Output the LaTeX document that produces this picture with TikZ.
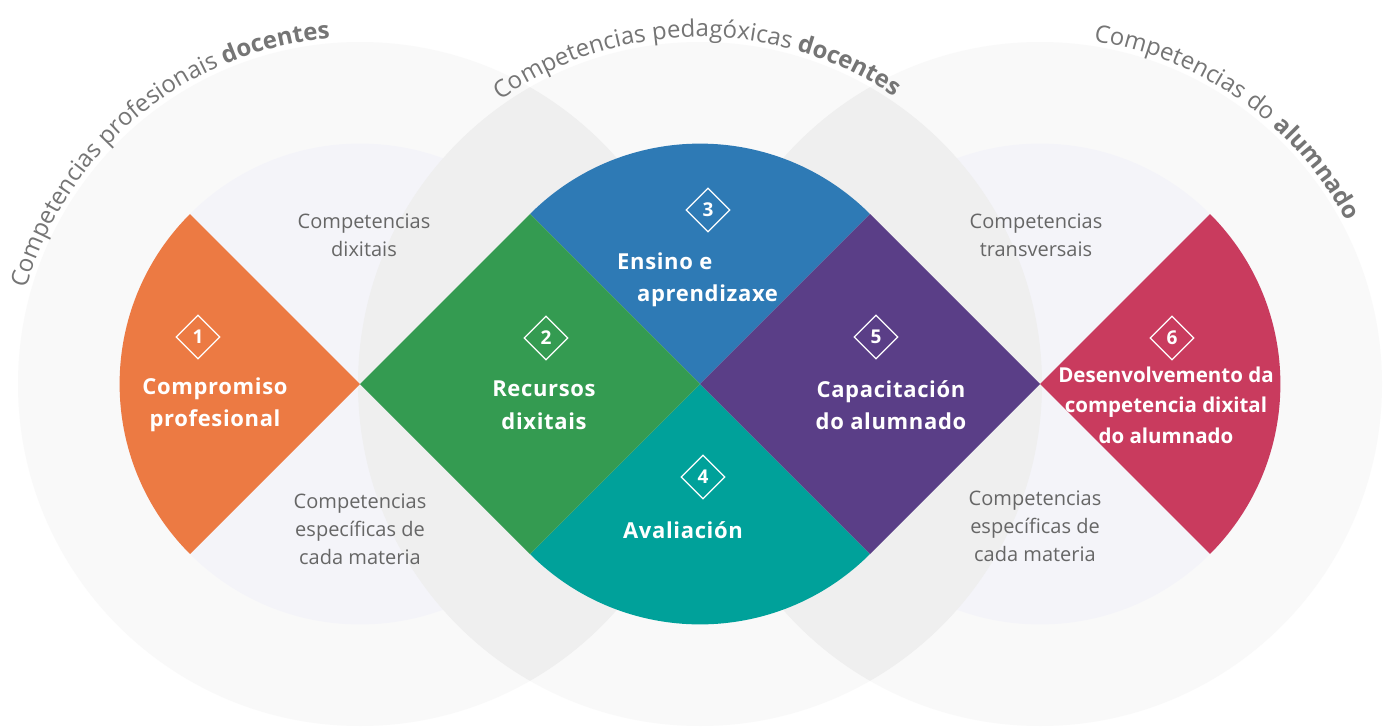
\documentclass[tikz,border=0pt]{standalone}
\usepackage{fontspec}
\setmainfont{Open Sans}
\usetikzlibrary{shapes.geometric,decorations.text}
\definecolor{cOut}{HTML}{F9F9F9}
\definecolor{cOv}{HTML}{EFEFEF}
\definecolor{cLav}{HTML}{F4F4F9}
\definecolor{cOrange}{HTML}{EC7A43}
\definecolor{cGreen}{HTML}{349B51}
\definecolor{cBlue}{HTML}{2E7AB5}
\definecolor{cTeal}{HTML}{00A19A}
\definecolor{cPurple}{HTML}{5A3E87}
\definecolor{cCrimson}{HTML}{C93B5E}
\definecolor{cGrayText}{HTML}{666666}
\definecolor{cTitle}{HTML}{757575}
\newcommand{\tfont}{\fontsize{24}{24}\selectfont}
\newcommand{\tfontb}{\fontsize{24}{24}\selectfont\bfseries}
\begin{document}
\begin{tikzpicture}[x=1pt,y=-1pt,
  gtext/.style={align=center, text=cGrayText, font=\fontsize{20}{28}\selectfont, inner sep=0pt},
  btext/.style={align=center, text=white, font=\fontsize{22}{32.5}\selectfont\bfseries\addfontfeature{LetterSpace=3}, inner sep=0pt},
  numbox/.style={diamond, draw=white, line width=1.3pt, minimum width=44pt, minimum height=44pt, inner sep=0pt, text=white, font=\fontsize{19}{19}\selectfont\bfseries},
  titlepath/.style={decorate, decoration={text along path, text align=center, text color=cTitle, text={#1}}}
]
\useasboundingbox (0,0) rectangle (1384,726);
\fill[white] (0,0) rectangle (1384,726);
\coordinate (Lc) at (360,384);
\coordinate (Mc) at (700,384);
\coordinate (Rc) at (1040,384);
% big circles
\fill[cOut] (Lc) circle[radius=342];
\fill[cOut] (Mc) circle[radius=342];
\fill[cOut] (Rc) circle[radius=342];
% inner circles
\fill[cLav] (Lc) circle[radius=240.4];
\fill[cLav] (Rc) circle[radius=240.4];
% overlaps with the middle circle
\begin{scope}
  \clip (Mc) circle[radius=342];
  \fill[cOv] (Lc) circle[radius=342];
  \fill[cOv] (Rc) circle[radius=342];
\end{scope}
% coloured shapes
\fill[cOrange] (Lc) -- ++(135:240.4) arc[start angle=135,end angle=225,radius=240.4] -- cycle;
\fill[cBlue] (Mc) -- ++(-45:240.4) arc[start angle=-45,end angle=-135,radius=240.4] -- cycle;
\fill[cTeal] (Mc) -- ++(45:240.4) arc[start angle=45,end angle=135,radius=240.4] -- cycle;
\fill[cCrimson] (Rc) -- ++(-45:240.4) arc[start angle=-45,end angle=45,radius=240.4] -- cycle;
\fill[cGreen] (360,384) -- (530,214) -- (700,384) -- (530,554) -- cycle;
\fill[cPurple] (700,384) -- (870,214) -- (1040,384) -- (870,554) -- cycle;
% curved titles
\path[titlepath={|\tfont|Competencias profesionais |\tfontb|docentes}]
  (Lc) ++(-176:347) arc[start angle=-176,end angle=-83,radius=347];
\path[titlepath={|\tfont|Competencias pedagóxicas |\tfontb|docentes}]
  (Mc) ++(-136:347) arc[start angle=-136,end angle=-45,radius=347];
\path[titlepath={|\tfont|Competencias do |\tfontb|alumnado}]
  (Rc) ++(-101:347) arc[start angle=-101,end angle=-8,radius=347];
% grey labels
\node[gtext] (g1) at (364,235) {Competencias\\dixitais};
\node[gtext] (g2) at (360,529) {Competencias\\específicas de\\cada materia};
\node[gtext] (g3) at (1036,235) {Competencias\\transversais};
\node[gtext] (g4) at (1035,526) {Competencias\\específicas de\\cada materia};
% number markers
\node[numbox] (n1) at (198,337) {1};
\node[numbox] (n2) at (546,338) {2};
\node[numbox] (n3) at (708,210) {3};
\node[numbox] (n4) at (703,477) {4};
\node[numbox] (n5) at (876,337) {5};
\node[numbox] (n6) at (1172,338) {6};
% white labels
\node[btext] (b1) at (215,405) {Compromiso\\profesional};
\node[btext] (b2) at (544,405) {Recursos\\dixitais};
\node[btext, align=left, anchor=west] (b3) at (617,280) {Ensino e\\\hspace*{20pt}aprendizaxe};
\node[btext] (b4) at (683,530) {Avaliación};
\node[btext] (b5) at (891,405) {Capacitación\\do alumnado};
\node[btext, font=\fontsize{20.5}{30.5}\selectfont\bfseries] (b6) at (1166,405) {Desenvolvemento da\\competencia dixital\\do alumnado};
\end{tikzpicture}
\end{document}
